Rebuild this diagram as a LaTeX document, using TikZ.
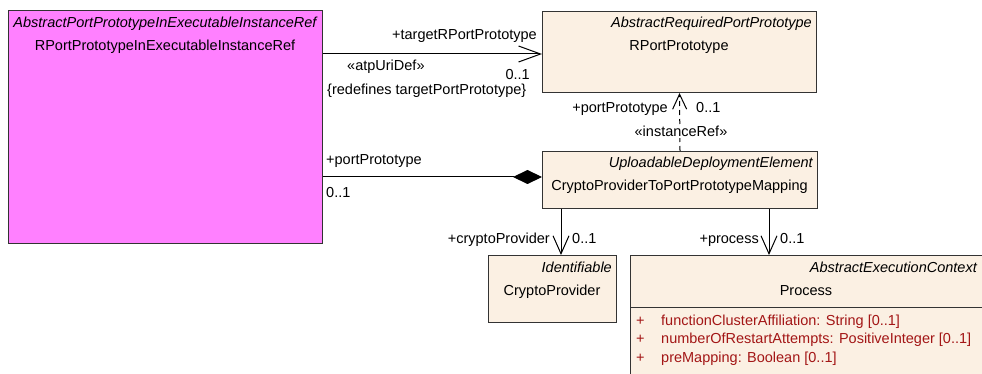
\documentclass[tikz,border=0pt]{standalone}
\usepackage{fontspec}
\setmainfont{Liberation Sans}
\usepackage{xcolor}
\usetikzlibrary{arrows.meta,positioning,calc}
\definecolor{refpink}{RGB}{255,128,255}
\definecolor{classfill}{RGB}{251,240,227}
\definecolor{attrred}{RGB}{163,22,22}
\tikzset{
  classbox/.style={draw=black!80,fill=classfill,line width=1pt,anchor=north west,inner sep=0pt},
  txt/.style={inner sep=0pt,font=\fontsize{14.5}{17}\selectfont},
  stereo/.style={txt,font=\fontsize{14.5}{17}\selectfont\itshape},
  attr/.style={txt,text=attrred,anchor=base west},
  conn/.style={line width=1pt,black},
  nav/.style={conn,-{Straight Barb[length=18pt,width=16pt]}},
  comp/.style={conn,-{Diamond[length=29pt,width=14pt]}},
  dep/.style={conn,dash pattern=on 5pt off 4pt,-{Straight Barb[length=15pt,width=14pt]}}
}
\begin{document}
\begin{tikzpicture}[x=1pt,y=-1pt]
  \useasboundingbox (0,0) rectangle (982,374);
  % classes
  \node[classbox,fill=refpink,minimum width=314pt,minimum height=233pt] (ref) at (8,10) {};
  \node[classbox,minimum width=274pt,minimum height=81pt] (rport) at (542,11) {};
  \node[classbox,minimum width=275pt,minimum height=57pt] (upload) at (542,151) {};
  \node[classbox,minimum width=128pt,minimum height=67pt] (crypto) at (488,255) {};
  \node[classbox,draw=none,minimum width=352pt,minimum height=119pt] (process) at (630,255) {};
  \draw[draw=black!80,line width=1pt] (process.south west) |- (process.north east);
  \draw[draw=black!80,line width=1pt] ([yshift=-52pt]process.north west) -- ([yshift=-52pt]process.north east);
  % class names
  \node[stereo,anchor=base] (refst) at (165,28) {AbstractPortPrototypeInExecutableInstanceRef};
  \node[txt,anchor=base] (refname) at (165,51) {RPortPrototypeInExecutableInstanceRef};
  \node[stereo,anchor=base east] (rportst) at (812,28) {AbstractRequiredPortPrototype};
  \node[txt,anchor=base] (rportname) at (679,51) {RPortPrototype};
  \node[stereo,anchor=base east] (uploadst) at (813,168) {UploadableDeploymentElement};
  \node[txt,anchor=base] (uploadname) at (679.5,191) {CryptoProviderToPortPrototypeMapping};
  \node[stereo,anchor=base east] (cryptost) at (612,272) {Identifiable};
  \node[txt,anchor=base] (cryptoname) at (552,295) {CryptoProvider};
  \node[stereo,anchor=base east] (processst) at (977,272) {AbstractExecutionContext};
  \node[txt,anchor=base] (processname) at (806,295) {Process};
  \node[attr] (plusa) at (636,325) {+};
  \node[attr] (attra) at (661,325) {functionClusterAffiliation: String [0..1]};
  \node[attr] (plusb) at (636,343) {+};
  \node[attr] (attrb) at (661,343) {numberOfRestartAttempts: PositiveInteger [0..1]};
  \node[attr] (plusc) at (636,362) {+};
  \node[attr] (attrc) at (661,362) {preMapping: Boolean [0..1]};
  % connectors
  \draw[nav,-{Straight Barb[length=22pt,width=16pt]}] ([yshift=-44pt]ref.north east) -- ([yshift=-43pt]rport.north west);
  \draw[comp] ([yshift=-167pt]ref.north east) -- ([yshift=-26pt]upload.north west);
  \draw[dep] (upload.north) -- (rport.south);
  \draw[nav] ([xshift=19pt]upload.south west) -- ([xshift=73pt]crypto.north west);
  \draw[nav] ([xshift=227pt]upload.south west) -- ([xshift=139pt]process.north west);
  % role labels
  \node[txt,anchor=base east] (tgtrole) at (537,40) {+targetRPortPrototype};
  \node[txt,anchor=base west] (tgtstereo) at (347,71) {«atpUriDef»};
  \node[txt,anchor=base east] (tgtmult) at (530,80) {0..1};
  \node[txt,anchor=base west] (tgtredef) at (327,95) {\{redefines targetPortPrototype\}};
  \node[txt,anchor=base east] (iprole) at (668,113) {+portPrototype};
  \node[txt,anchor=base west] (ipmult) at (696,113) {0..1};
  \node[txt,anchor=base,fill=white,inner sep=1pt] (ipstereo) at (681,137) {«instanceRef»};
  \node[txt,anchor=base west] (pprole) at (326,165) {+portPrototype};
  \node[txt,anchor=base west] (ppmult) at (326,197) {0..1};
  \node[txt,anchor=base east] (cprole) at (550,243) {+cryptoProvider};
  \node[txt,anchor=base west] (cpmult) at (572,243) {0..1};
  \node[txt,anchor=base east] (prrole) at (759,243) {+process};
  \node[txt,anchor=base west] (prmult) at (780,243) {0..1};
\end{tikzpicture}
\end{document}
